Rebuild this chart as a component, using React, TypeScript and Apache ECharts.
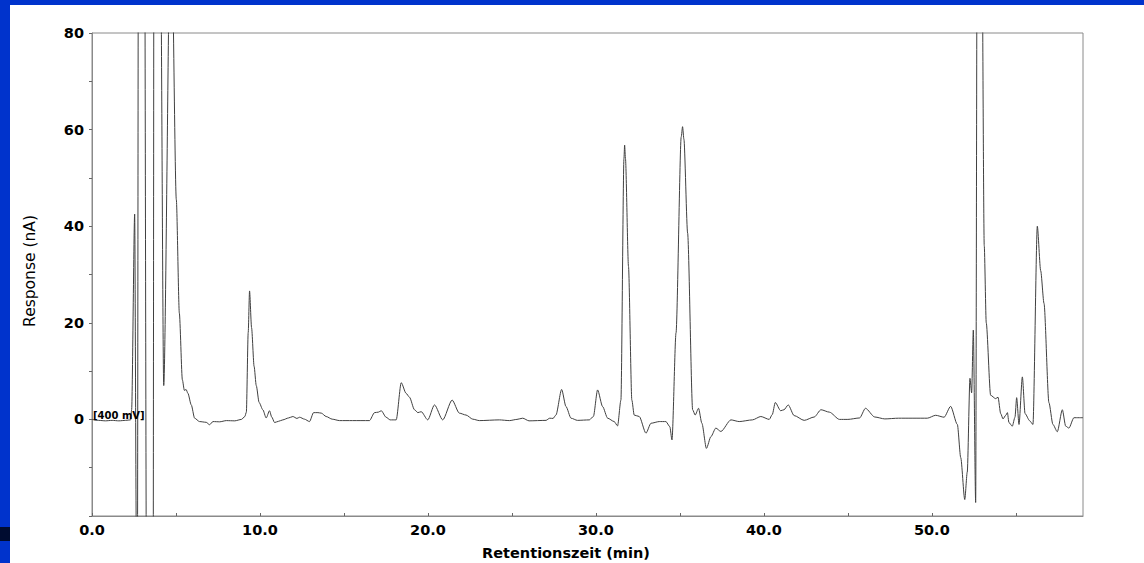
import React, { useEffect, useRef } from "react";
import * as echarts from "echarts";

// Retention time (min) and detector response (nA)
const times: number[] = [
  0.0, 0.4, 0.8, 1.2, 1.6, 2.0, 2.3, 2.36, 2.54, 2.64, 2.7, 2.78, 3.1, 3.25, 3.64, 3.7, 4.06, 4.27, 4.7,
  5.02, 5.2, 5.38, 5.5, 5.6, 5.71, 5.91, 6.11, 6.4, 6.8, 7.0, 7.2, 7.6, 8.0, 8.5, 8.9, 9.1, 9.19, 9.3,
  9.38, 9.5, 9.65, 9.78, 9.95, 10.17, 10.37, 10.57, 10.7, 10.87, 11.1, 11.36, 11.7, 11.96, 12.2, 12.36,
  12.65, 12.95, 13.19, 13.45, 13.65, 13.94, 14.3, 14.74, 15.5, 16.52, 16.82, 17.05, 17.22, 17.51, 17.75,
  18.11, 18.41, 18.7, 18.9, 19.2, 19.4, 19.6, 19.99, 20.39, 20.88, 21.44, 21.87, 22.27, 22.67, 23.06,
  24.25, 24.85, 25.3, 25.64, 26.02, 27.03, 27.25, 27.45, 27.62, 27.96, 28.22, 28.52, 28.9, 29.61, 29.85,
  30.1, 30.4, 30.7, 31.09, 31.29, 31.49, 31.67, 31.71, 31.76, 31.94, 32.14, 32.28, 32.58, 32.98, 33.28,
  33.77, 34.17, 34.4, 34.53, 34.77, 35.08, 35.16, 35.24, 35.46, 35.76, 35.91, 36.11, 36.31, 36.58, 36.85,
  37.14, 37.44, 38.04, 38.53, 39.32, 39.82, 40.32, 40.5, 40.68, 41.0, 41.2, 41.45, 41.8, 42.4, 43.0,
  43.4, 43.9, 44.5, 45.0, 45.7, 46.05, 46.6, 47.2, 48.02, 49.73, 50.23, 50.73, 51.12, 51.52, 51.72,
  51.96, 52.11, 52.27, 52.37, 52.47, 52.61, 52.71, 52.95, 53.12, 53.24, 53.5, 53.8, 53.94, 54.1, 54.24,
  54.4, 54.5, 54.59, 54.79, 54.95, 55.05, 55.19, 55.39, 55.55, 55.83, 56.02, 56.28, 56.48, 56.68, 56.97,
  57.21, 57.47, 57.77, 57.97, 58.16, 58.46, 59.0,
];

const responses: number[] = [
  0.0, -0.2, -0.3, -0.2, -0.3, -0.2, -0.1, 2.0, 42.5, -25, -40, 150, 150, -40, -40, 150, 110, 7.0, 110,
  45.5, 22, 8.2, 6.0, 6.2, 5.4, 3.0, 0.25, -0.45, -0.6, -1.1, -0.45, -0.5, -0.25, -0.3, 0.0, 0.6, 1.5, 18,
  26.6, 19, 11, 7.0, 3.5, 2.0, 0.3, 1.8, 0.5, -0.65, -0.4, -0.1, 0.3, 0.6, 0.2, 0.45,
  0.05, -0.45, 1.4, 1.4, 1.3, 0.6, 0.05, -0.25, -0.25, -0.25, 1.4, 1.5, 1.8, 0.45, -0.1,
  -0.1, 7.6, 5.4, 4.6, 2.0, 1.4, 1.6, -0.1, 3.0, -0.1, 4.0, 1.3, 0.9, 0.05, -0.25,
  -0.1, -0.25, 0.0, 0.25, -0.3, -0.2, 0.25, 0.2, 0.9, 6.2, 2.65, 0.25, -0.2, -0.1, 0.6,
  6.1, 2.65, 0.25, -0.45, -1.35, 4.0, 54, 56.8, 54, 31.7, 4.0, 0.9, 0.6, -2.85, -0.8,
  -0.45, -0.45, -1.5, -4.25, 17.9, 58.5, 60.6, 58, 38.6, 2.0, 0.9, 2.3, -0.8, -6.0, -3.55,
  -1.8, -2.5, -0.1, -0.45, -0.1, 0.6, 0.0, 1.0, 3.5, 1.8, 2.0, 3.0, 0.8, -0.2, 0.5,
  2.0, 1.5, 0.0, 0.0, 0.3, 2.3, 0.5, 0.1, 0.25, 0.25, 0.85, 0.45, 2.7, -1.05, -7.9,
  -16.6, -10.9, 8.5, 5.5, 18.5, -17.2, 120, 120, 36, 20, 5.0, 4.3, 4.6, 1.2, 0.1,
  0.85, 1.4, -0.65, -1.4, 0.45, 4.5, -1.05, 8.8, 1.2, -0.3, -1.05, 40, 30.8, 24, 3.5,
  -1.05, -2.55, 2.0, -1.4, -1.8, 0.35, 0.35,
];

const yTickLabels: number[] = [0, 20, 40, 60, 80];
const xTickLabels: number[] = [0, 10, 20, 30, 40, 50];

const FONT = "DejaVu Sans";

export default function App() {
  const ref = useRef<HTMLDivElement>(null);

  useEffect(() => {
    if (!ref.current) return;
    const chart = echarts.init(ref.current, null, { renderer: "svg" });
    const data = times.map((t, i) => [t, responses[i]]);
    chart.setOption({
      animation: false,
      backgroundColor: "#ffffff",
      grid: {
        left: 92,
        right: 61,
        top: 33,
        bottom: 47,
        show: true,
        borderColor: "#8a8a8a",
        borderWidth: 1,
        backgroundColor: "transparent",
      },
      xAxis: {
        type: "value",
        min: 0,
        max: 59,
        interval: 5,
        axisLine: { show: true, onZero: false, lineStyle: { color: "#8a8a8a", width: 1 } },
        axisTick: { show: true, inside: true, length: 3, lineStyle: { color: "#666" } },
        splitLine: { show: false },
        axisLabel: {
          margin: 6,
          color: "#000",
          fontFamily: FONT,
          fontWeight: "bold",
          fontSize: 14.5,
          showMaxLabel: false,
          formatter: (v: number) => (xTickLabels.indexOf(v) >= 0 ? v.toFixed(1) : ""),
        },
      },
      yAxis: {
        type: "value",
        min: -20,
        max: 80,
        interval: 10,
        axisLine: { show: true, onZero: false, lineStyle: { color: "#8a8a8a", width: 1 } },
        axisTick: { show: true, inside: false, length: 3, lineStyle: { color: "#666" } },
        splitLine: { show: false },
        axisLabel: {
          margin: 8,
          color: "#000",
          fontFamily: FONT,
          fontWeight: "bold",
          fontSize: 14.5,
          formatter: (v: number) => (yTickLabels.indexOf(v) >= 0 ? String(v) : ""),
        },
      },
      series: [
        {
          type: "line",
          data,
          showSymbol: false,
          symbol: "none",
          clip: true,
          smooth: 0.25,
          smoothMonotone: "x",
          lineStyle: { color: "#404040", width: 1 },
        },
      ],
      graphic: [
        { type: "rect", shape: { x: 0, y: 0, width: 1144, height: 5 }, style: { fill: "#0033cc" }, z: 100 },
        { type: "rect", shape: { x: 0, y: 0, width: 10, height: 563 }, style: { fill: "#0033cc" }, z: 100 },
        { type: "rect", shape: { x: 0, y: 527, width: 10, height: 14 }, style: { fill: "#000c30" }, z: 101 },
        {
          type: "text",
          x: 93,
          y: 415,
          style: {
            text: "[400 mV]",
            fill: "#000",
            font: `bold 10px "${FONT}"`,
            align: "left",
            verticalAlign: "middle",
          },
          z: 50,
        },
        {
          type: "text",
          x: 30,
          y: 271,
          rotation: Math.PI / 2,
          style: {
            text: "Response (nA)",
            fill: "#000",
            font: `15.5px "${FONT}"`,
            align: "center",
            verticalAlign: "middle",
          },
        },
        {
          type: "text",
          x: 566,
          y: 553,
          style: {
            text: "Retentionszeit (min)",
            fill: "#000",
            font: `bold 14.5px "${FONT}"`,
            align: "center",
            verticalAlign: "middle",
          },
        },
      ],
    });
    return () => chart.dispose();
  }, []);

  return (
    <div
      ref={ref}
      style={{ position: "absolute", left: 0, top: 0, width: 1144, height: 563, background: "#fff" }}
    />
  );
}
